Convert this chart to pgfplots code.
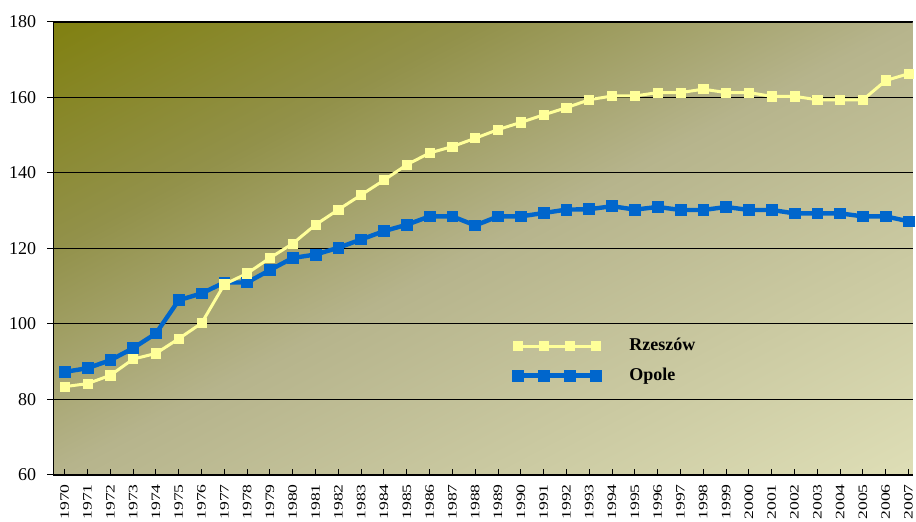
\documentclass[border=0pt]{standalone}
\usepackage{pgfplots}
\pgfplotsset{compat=1.18}
\usepackage{fontspec}
\setmainfont{Liberation Serif}
\definecolor{rzcol}{RGB}{255,255,153}
\definecolor{opcol}{RGB}{0,102,204}
% diagonal background: olive at top left, light beige at bottom right
\pgfdeclarefunctionalshading{bgdiag}{\pgfpoint{0bp}{0bp}}{\pgfpoint{100bp}{100bp}}{}{
  25 sub 50 div 1 exch sub exch 25 sub 50 div add 2 div
  dup 0 lt {pop 0} if dup 1 gt {pop 1} if
  dup 0.25 lt
  { 4 mul dup 0.071 mul 0.502 add exch dup 0.067 mul 0.502 add exch 0.227 mul 0.063 add }
  { dup 0.5 lt
    { 0.25 sub 4 mul dup 0.141 mul 0.573 add exch dup 0.137 mul 0.569 add exch 0.259 mul 0.29 add }
    { 0.5 sub 2 mul dup 0.157 mul 0.714 add exch dup 0.165 mul 0.706 add exch 0.165 mul 0.549 add }
    ifelse }
  ifelse
}
\begin{document}
\begin{tikzpicture}
\useasboundingbox (-26.65pt,-23.5pt) rectangle (431.35pt,237.5pt);
\begin{axis}[
  at={(0pt,0pt)}, anchor=south west,
  scale only axis, width=429.7pt, height=226.5pt,
  xmin=1969.5, xmax=2007.18, ymin=60, ymax=180,
  xtick={1970,...,2007}, minor x tick num=1,
  ytick={60,80,...,180},
  axis x line*=bottom, axis y line*=left,
  axis line style={black, line width=0.7pt},
  ymajorgrids, major grid style={black, line width=0.5pt},
  x tick style={black, line width=0.5pt},
  y tick style={black, line width=0.5pt},
  xtick align=inside, major tick length=3pt, minor tick length=2.5pt,
  ytick align=outside,
  /pgf/number format/assume math mode=true,
  /pgf/number format/1000 sep={},
  xticklabel={\scalebox{1}[0.73]{\pgfmathprintnumber{\tick}}},
  xticklabel style={rotate=90, anchor=east, font=\fontsize{8.8}{10}\selectfont, inner sep=1pt, xshift=-3.5pt},
  yticklabel style={font=\fontsize{9}{10}\selectfont, xshift=-2pt},
  axis background/.style={shading=bgdiag},
  legend cell align=left,
  legend style={draw=none, fill=none, at={(rel axis cs:0.527,0.32)}, anchor=north west,
    font=\bfseries\fontsize{9}{10}\selectfont, row sep=3pt,
    /tikz/every odd column/.append style={column sep=12pt}},
  legend image code/.code={\draw[mark repeat=1,#1] plot coordinates {(0pt,0pt)(13pt,0pt)(26pt,0pt)(39pt,0pt)};},
  reverse legend,
]
\addplot[color=opcol, line width=2.2pt, mark=square*, mark size=2.7pt, mark options={solid, line width=0.4pt}] coordinates {
(1970,87.3)(1971,88.3)(1972,90.4)(1973,93.6)(1974,97.5)(1975,106.3)(1976,108.1)(1977,111)
(1978,111)(1979,114.3)(1980,117.5)(1981,118.4)(1982,120.2)(1983,122.4)(1984,124.6)(1985,126.3)
(1986,128.5)(1987,128.5)(1988,126.1)(1989,128.5)(1990,128.5)(1991,129.4)(1992,130.3)(1993,130.4)
(1994,131.2)(1995,130.3)(1996,131)(1997,130.2)(1998,130.2)(1999,131)(2000,130.2)(2001,130.2)
(2002,129.3)(2003,129.3)(2004,129.3)(2005,128.5)(2006,128.5)(2007,127.2)};
\addlegendentry{Opole}
\addplot[color=rzcol, line width=1.5pt, mark=square*, mark size=2.3pt, mark options={solid, line width=0.4pt}] coordinates {
(1970,83.4)(1971,84.2)(1972,86.4)(1973,90.7)(1974,92.2)(1975,96.1)(1976,100.2)(1977,110.5)
(1978,113.4)(1979,117.5)(1980,121.3)(1981,126.3)(1982,130.3)(1983,134.2)(1984,138.1)(1985,142.2)
(1986,145.3)(1987,147)(1988,149.2)(1989,151.5)(1990,153.4)(1991,155.4)(1992,157.3)(1993,159.4)
(1994,160.4)(1995,160.4)(1996,161.3)(1997,161.3)(1998,162.2)(1999,161.3)(2000,161.3)(2001,160.3)
(2002,160.3)(2003,159.4)(2004,159.4)(2005,159.4)(2006,164.5)(2007,166.3)};
\addlegendentry{Rzeszów}
\draw[black, line width=1pt] (rel axis cs:0,1) -- (rel axis cs:1,1);
\end{axis}
\end{tikzpicture}
\end{document}
